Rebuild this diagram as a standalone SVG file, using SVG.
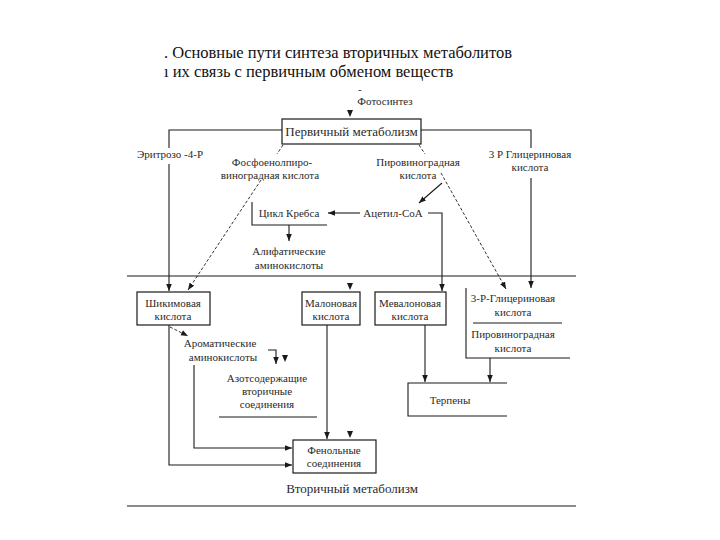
<svg xmlns="http://www.w3.org/2000/svg" xmlns:xlink="http://www.w3.org/1999/xlink" width="720" height="540" viewBox="0 0 720 540" font-family="'Liberation Serif', 'DejaVu Serif', serif">
<defs>
<style>
text{font-family:'Liberation Serif','DejaVu Serif',serif;fill:#2a2a2a;font-size:11px}
.t{font-size:16.5px;fill:#111}
.c{text-anchor:middle}
.big{font-size:13px}
.box{fill:none;stroke:#1a1a1a;stroke-width:1.2}
.ln{fill:none;stroke:#1a1a1a;stroke-width:1.1}
.ar{marker-end:url(#ah)}
.ds{stroke-dasharray:3,2;stroke-width:0.9}
.tri{fill:#1a1a1a}
</style>
<marker id="ah" viewBox="0 0 10 10" refX="10" refY="5" markerWidth="7" markerHeight="7" markerUnits="userSpaceOnUse" orient="auto">
<path d="M0,1 L10,5 L0,9 z" fill="#1a1a1a"/>
</marker>
<path id="tri" d="M-3,-7 L3,-7 L0,0 z"/>
</defs>
<rect width="720" height="540" fill="#fff"/>

<g id="title">
<text class="t" x="164" y="58">. Основные пути синтеза вторичных метаболитов</text>
<text class="t" x="164" y="77">ı их связь с первичным обменом веществ</text>
</g>

<g id="n-photo">
<text x="358" y="93">-</text>
<text class="c" x="385" y="105">Фотосинтез</text>
</g>
<g id="n-primary">
<rect class="box" x="282" y="119" width="139" height="25"/>
<text class="c big" x="351.5" y="136">Первичный метаболизм</text>
</g>
<g id="n-erythrose"><text x="137" y="158">Эритрозо -4-Р</text></g>
<g id="n-pep">
<text class="c" x="272" y="166">Фосфоенолпиро-</text>
<text class="c" x="270" y="179">виноградная кислота</text>
</g>
<g id="n-pyr">
<text class="c" x="418" y="166">Пировиноградная</text>
<text class="c" x="418" y="179">кислота</text>
</g>
<g id="n-3pg-top">
<text class="c" x="530" y="158">3 Р Глицериновая</text>
<text class="c" x="530" y="171">кислота</text>
</g>
<g id="n-acetyl"><text class="c" x="393" y="217">Ацетил-CoA</text></g>
<g id="n-krebs">
<path class="ln" d="M252,202 V225 H327"/>
<text class="c" x="289" y="217">Цикл Кребса</text>
</g>
<g id="n-aliph">
<text class="c" x="289" y="255">Алифатические</text>
<text class="c" x="289" y="269">аминокислоты</text>
</g>
<g id="separators">
<line class="ln" x1="127" y1="276" x2="576" y2="276"/>
<line class="ln" x1="127" y1="506" x2="576" y2="506"/>
</g>
<g id="n-shik">
<rect class="box" x="137" y="292" width="73" height="33"/>
<text class="c" x="173" y="307">Шикимовая</text>
<text class="c" x="173" y="320">кислота</text>
</g>
<g id="n-malon">
<rect class="box" x="302" y="292" width="58" height="33"/>
<text class="c" x="331" y="307">Малоновая</text>
<text class="c" x="331" y="320">кислота</text>
</g>
<g id="n-meval">
<rect class="box" x="375" y="292" width="71" height="33"/>
<text class="c" x="410" y="307">Мевалоновая</text>
<text class="c" x="410" y="320">кислота</text>
</g>
<g id="n-3pg">
<path class="ln" d="M466,288 V358 H570"/>
<line class="ln" x1="473" y1="323" x2="562" y2="323"/>
<text class="c" x="513" y="302">3-Р-Глицериновая</text>
<text class="c" x="513" y="316">кислота</text>
<text class="c" x="513" y="338">Пировиноградная</text>
<text class="c" x="513" y="352">кислота</text>
</g>
<g id="n-terp">
<path class="ln" d="M507,383 H408 V416 H507"/>
<text class="c" x="450" y="404">Терпены</text>
</g>
<g id="n-arom">
<text class="c" x="220" y="347">Ароматические</text>
<text class="c" x="223" y="361">аминокислоты</text>
</g>
<g id="n-nitro">
<text class="c" x="267" y="382">Азотсодержащие</text>
<text class="c" x="267" y="395">вторичные</text>
<text class="c" x="267" y="408">соединения</text>
<line class="ln" x1="219" y1="417" x2="317" y2="417"/>
</g>
<g id="n-phenol">
<rect class="box" x="293" y="440" width="83" height="33"/>
<text class="c" x="334" y="454">Фенольные</text>
<text class="c" x="334" y="467">соединения</text>
</g>
<g id="n-secondary"><text class="c big" x="352" y="493">Вторичный метаболизм</text></g>

<g id="connectors">
<use xlink:href="#tri" class="tri" x="350" y="117"/>
<path class="ln" d="M282,130 H169 V148"/>
<path class="ln ar" d="M169,164 V291"/>
<path class="ln" d="M421,130 H531 V148"/>
<path class="ln ar" d="M531,178 V288"/>
<path class="ln ds" d="M283,145 L277,154"/>
<path class="ln ds ar" d="M261,180 L188,290"/>
<path class="ln ds" d="M419,145 L425,154"/>
<path class="ln ds ar" d="M441,173 L506,289"/>
<path class="ln ar" d="M442,183 L419,203"/>
<path class="ln ar" d="M360,213 H328"/>
<path class="ln ar" d="M428,213 H442 V291"/>
<path class="ln ar" d="M289,225 V241"/>
<use xlink:href="#tri" class="tri" x="350" y="290"/>
<path class="ln ds ar" d="M170,327 L188,336"/>
<path class="ln ar" d="M268,350 H276 V364"/>
<use xlink:href="#tri" class="tri" x="285" y="362"/>
<path class="ln ar" d="M169,325 V465 H292"/>
<path class="ln ar" d="M194,365 V448 H292"/>
<path class="ln ar" d="M327,325 V439"/>
<use xlink:href="#tri" class="tri" x="350" y="438"/>
<path class="ln ar" d="M425,325 V382"/>
<path class="ln ar" d="M490,358 V382"/>
</g>
</svg>
